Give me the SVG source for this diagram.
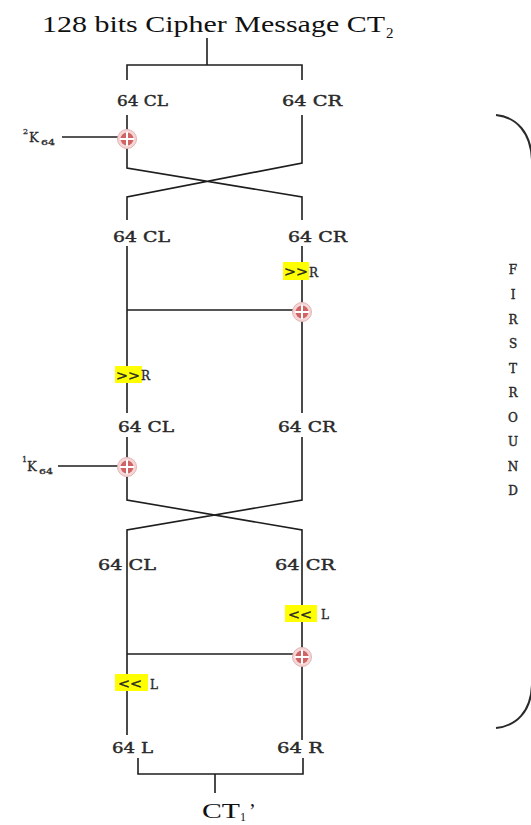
<svg xmlns="http://www.w3.org/2000/svg" width="531" height="825" viewBox="0 0 531 825">
<style>
.ln{stroke:#1e1e1e;stroke-width:1.6;fill:none}
.br{stroke:#2a2a2a;stroke-width:2;fill:none}
.t{font-family:"Liberation Serif","Times New Roman",serif;fill:#111}
.lb{font-family:"DejaVu Serif","Liberation Serif",serif;font-size:15px;fill:#2a2a2a;stroke:#2a2a2a;stroke-width:0.45}
.sh{font-family:"DejaVu Serif","Liberation Serif",serif;font-size:12px;fill:#2a2a2a;stroke:#2a2a2a;stroke-width:0.35}
.k{font-family:"DejaVu Serif","Liberation Serif",serif;fill:#2a2a2a;stroke:#2a2a2a;stroke-width:0.3}
.fr{font-family:"DejaVu Serif","Liberation Serif",serif;font-size:12px;fill:#2a2a2a;stroke:#2a2a2a;stroke-width:0.4;text-anchor:middle}
.hl{fill:#ffff00}
</style>
<defs>
<g id="xor">
<circle r="9.5" fill="#f6d6d6" stroke="#e2b4b4" stroke-width="1"/>
<circle r="6.5" fill="#d06464"/>
<path d="M-7,0H7M0,-7V7" stroke="#ffffff" stroke-width="2"/>
</g>
</defs>

<g id="title">
<text class="t" x="42" y="32" font-size="23" textLength="343" lengthAdjust="spacingAndGlyphs">128 bits Cipher  Message  CT</text>
<text class="t" x="386" y="38" font-size="15">2</text>
</g>

<g id="connectors">
<path class="ln" d="M207,38V65M127,80V65H302V80"/>
<path class="ln" d="M127,115V130M127,148V168L302,197V220M302,115V163L127,197V220"/>
<path class="ln" d="M62,137H118"/>
<path class="ln" d="M127,246V413M302,246V303M302,321V413M127,310H293"/>
<path class="ln" d="M127,437V459M127,477V500L302,530V740M302,437V500L127,530V735M58,466H118"/>
<path class="ln" d="M127,654H293"/>
<path class="ln" d="M138,758V774H303V758M215,774V793"/>
<path class="br" d="M496,115C516,117 531,132 532,160V685C531,712 516,726 496,728"/>
</g>

<g id="ct2-split">
<text class="lb" x="117" y="106" textLength="51" lengthAdjust="spacingAndGlyphs">64 CL</text>
<text class="lb" x="282" y="106" textLength="60" lengthAdjust="spacingAndGlyphs">64 CR</text>
</g>

<g id="key2">
<text class="k" x="23" y="134" font-size="8">2</text>
<text class="k" x="29" y="142" font-size="13">K</text>
<text class="k" x="41" y="145" font-size="8" textLength="14" lengthAdjust="spacingAndGlyphs">64</text>
</g>
<g id="xor1"><use href="#xor" x="127" y="139"/></g>

<g id="swap1-out">
<text class="lb" x="113" y="242" textLength="57" lengthAdjust="spacingAndGlyphs">64 CL</text>
<text class="lb" x="288" y="242" textLength="59" lengthAdjust="spacingAndGlyphs">64 CR</text>
</g>

<g id="shr-right">
<rect class="hl" x="283" y="262" width="26" height="18"/>
<text class="sh" x="284" y="276" textLength="24" lengthAdjust="spacingAndGlyphs">&gt;&gt;</text>
<text class="sh" x="309" y="277" font-size="13">R</text>
</g>
<g id="xor2"><use href="#xor" x="302" y="312"/></g>

<g id="shr-left">
<rect class="hl" x="115" y="366" width="27" height="17"/>
<text class="sh" x="116" y="380" textLength="24" lengthAdjust="spacingAndGlyphs">&gt;&gt;</text>
<text class="sh" x="141" y="380" font-size="13">R</text>
</g>

<g id="mid-split">
<text class="lb" x="118" y="432" textLength="56" lengthAdjust="spacingAndGlyphs">64 CL</text>
<text class="lb" x="278" y="432" textLength="58" lengthAdjust="spacingAndGlyphs">64 CR</text>
</g>

<g id="key1">
<text class="k" x="22" y="462" font-size="8">1</text>
<text class="k" x="27" y="471" font-size="13">K</text>
<text class="k" x="39" y="474" font-size="8" textLength="14" lengthAdjust="spacingAndGlyphs">64</text>
</g>
<g id="xor3"><use href="#xor" x="127" y="467"/></g>

<g id="swap2-out">
<text class="lb" x="98" y="570" textLength="58" lengthAdjust="spacingAndGlyphs">64 CL</text>
<text class="lb" x="275" y="570" textLength="60" lengthAdjust="spacingAndGlyphs">64 CR</text>
</g>

<g id="shl-right">
<rect class="hl" x="285" y="605" width="32" height="17"/>
<text class="sh" x="288" y="619" textLength="24" lengthAdjust="spacingAndGlyphs">&lt;&lt;</text>
<text class="sh" x="321" y="619" font-size="13">L</text>
</g>
<g id="xor4"><use href="#xor" x="302" y="657"/></g>

<g id="shl-left">
<rect class="hl" x="115" y="674" width="33" height="17"/>
<text class="sh" x="118" y="688" textLength="24" lengthAdjust="spacingAndGlyphs">&lt;&lt;</text>
<text class="sh" x="150" y="689" font-size="13">L</text>
</g>

<g id="output">
<text class="lb" x="112" y="753" textLength="41" lengthAdjust="spacingAndGlyphs">64 L</text>
<text class="lb" x="277" y="753" textLength="46" lengthAdjust="spacingAndGlyphs">64 R</text>
<text class="t" x="202" y="818" font-size="22" textLength="38" lengthAdjust="spacingAndGlyphs">CT</text>
<text class="t" x="240" y="821" font-size="12">1</text>
<text class="t" x="249" y="818" font-size="20">’</text>
</g>

<g id="round-label">
<text class="fr" x="513" y="274">F</text>
<text class="fr" x="513" y="299">I</text>
<text class="fr" x="513" y="324">R</text>
<text class="fr" x="513" y="348">S</text>
<text class="fr" x="513" y="373">T</text>
<text class="fr" x="513" y="397">R</text>
<text class="fr" x="513" y="422">O</text>
<text class="fr" x="513" y="446">U</text>
<text class="fr" x="513" y="471">N</text>
<text class="fr" x="513" y="495">D</text>
</g>
</svg>
